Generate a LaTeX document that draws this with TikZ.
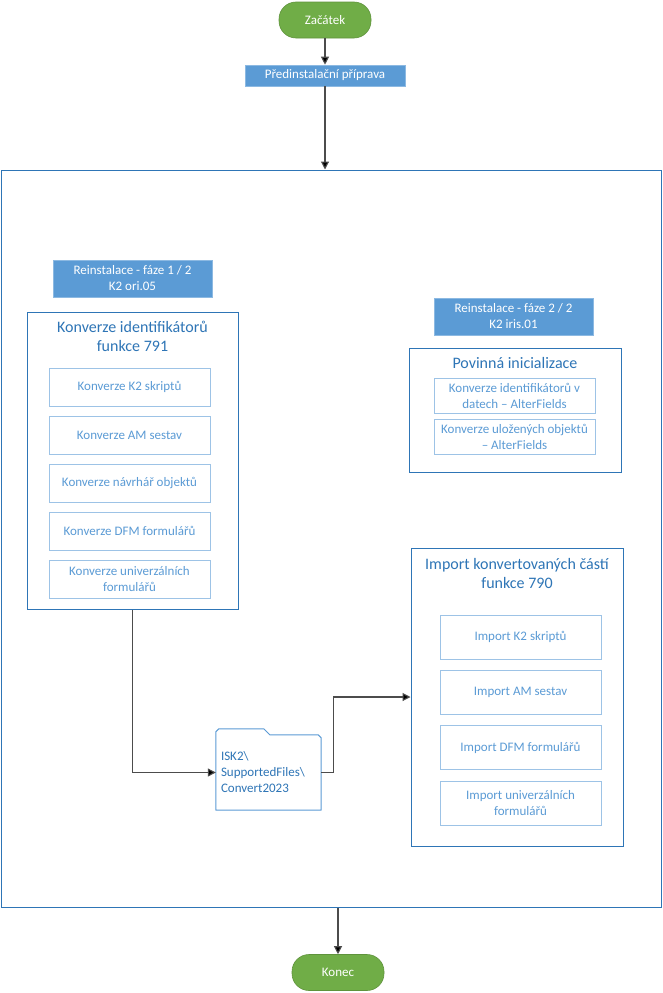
\documentclass[tikz,border=0pt]{standalone}
\usepackage{fontspec}
\setmainfont{Carlito}
\usetikzlibrary{arrows.meta,positioning,calc}
\definecolor{termgreen}{RGB}{112,173,71}
\definecolor{headblue}{RGB}{91,155,213}
\definecolor{frameblue}{RGB}{46,117,182}
\definecolor{paleblue}{RGB}{157,195,230}
\newcommand{\diagsmall}{\fontsize{13}{16}\selectfont}
\newcommand{\diagtitle}{\fontsize{16}{19.5}\selectfont}

\begin{document}
\begin{tikzpicture}[x=1pt,y=-1pt,
terminal/.style={fill=termgreen, draw=termgreen!85!black, line width=0.6pt,
  rounded corners=17pt, minimum width=92, minimum height=36, inner sep=0pt,
  text=white, font=\diagsmall},
headbox/.style={fill=headblue, draw=headblue!70!white, line width=0.6pt,
  minimum width=159, minimum height=37, inner sep=0pt, text=white,
  align=center, font=\diagsmall},
container/.style={draw=frameblue, line width=1pt, fill=white, inner sep=0pt},
contitle/.style={text=frameblue, align=center, font=\diagtitle},
taskbox/.style={draw=paleblue, line width=1pt, minimum width=161,
  inner sep=0pt, text=headblue, align=center, font=\diagsmall},
conn/.style={draw=black!70, line width=1.1pt,
  -{Triangle[length=8pt,width=8pt,fill=black]}}
]
\useasboundingbox (0,0) rectangle (662,993);

% ================= START / PREPARATION =================
\node[terminal] (zacatek) at (325,20) {Začátek};
\node[headbox, minimum width=160, minimum height=21] (priprava) at (325,75.5)
{Předinstalační příprava};

% ================= MAIN CONTAINER =================
\node[container, minimum width=660, minimum height=737] (reinstalace) at (331,538.5) {};

% ================= PHASE 1 / 2 =================
\node[headbox] (faze1) at (132.5,278.5)
{Reinstalace - fáze 1 / 2\\K2 ori.05};

\node[container, minimum width=211, minimum height=297] (konverze) at (132.5,460.5) {};
\node[contitle] (konvtitle) at (132.5,336.5)
{Konverze identifikátorů\\funkce 791};

\node[taskbox, minimum height=38] (konvskripty) at (129.5,387) {Konverze K2 skriptů};
\node[taskbox, minimum height=38] (konvsestavy) at (129.5,435) {Konverze AM sestav};
\node[taskbox, minimum height=38] (konvnavrhar) at (129.5,483) {Konverze návrhář objektů};
\node[taskbox, minimum height=38] (konvdfm) at (129.5,531) {Konverze DFM formulářů};
\node[taskbox, minimum height=38] (konvuniv) at (129.5,579)
{Konverze univerzálních\\formulářů};

% ================= PHASE 2 / 2 =================
\node[headbox] (faze2) at (513.5,316.5)
{Reinstalace - fáze 2 / 2\\K2 iris.01};

\node[container, minimum width=212, minimum height=124] (povinna) at (515,410) {};
\node[contitle] (povtitle) at (515,363) {Povinná inicializace};

\node[taskbox, minimum height=35] (povdata) at (514.5,395.5)
{Konverze identifikátorů v\\datech -- AlterFields};
\node[taskbox, minimum height=35] (povobjekty) at (514.5,437)
{Konverze uložených objektů\\-- AlterFields};

% ================= IMPORT =================
\node[container, minimum width=212, minimum height=298] (import) at (517,697) {};
\node[contitle] (imptitle) at (517,573.5)
{Import konvertovaných částí\\funkce 790};

\node[taskbox, minimum height=44] (impskripty) at (520.5,637) {Import K2 skriptů};
\node[taskbox, minimum height=44] (impsestavy) at (520.5,692.5) {Import AM sestav};
\node[taskbox, minimum height=44] (impdfm) at (520.5,747.5) {Import DFM formulářů};
\node[taskbox, minimum height=44] (impuniv) at (520.5,803)
{Import univerzálních\\formulářů};

% ================= FOLDER =================
\node[minimum width=105, minimum height=75, inner sep=0pt] (slozka) at (268.5,772.5) {};
\draw[headblue, line width=1pt, line join=round]
  (slozka.south west) -- ($(slozka.north west)+(0,-3)$)
  -- ($(slozka.north west)+(3,-6)$) -- ($(slozka.north west)+(48,-6)$)
  -- ($(slozka.north west)+(54,0)$) -- ($(slozka.north east)+(-3,0)$)
  -- ($(slozka.north east)+(0,3)$) -- (slozka.south east) -- cycle;
\node[anchor=west, align=left, text=frameblue, font=\diagsmall, inner sep=0pt]
  (slozkatext) at ($(slozka.west)+(5,0)$)
{ISK2\textbackslash\\SupportedFiles\textbackslash\\Convert2023};

% ================= END =================
\node[terminal] (konec) at (338,972.5) {Konec};

% ================= CONNECTORS =================
\draw[conn] (zacatek) -- (priprava);
\draw[conn] (priprava.south) -- (priprava.south |- reinstalace.north);
\draw[conn] (konverze.south) |- (slozka.west);
\draw[conn] (slozka.east) -- ++(12,0) |- (import.west);
\draw[conn] (konec.north |- reinstalace.south) -- (konec.north);

\end{tikzpicture}
\end{document}
